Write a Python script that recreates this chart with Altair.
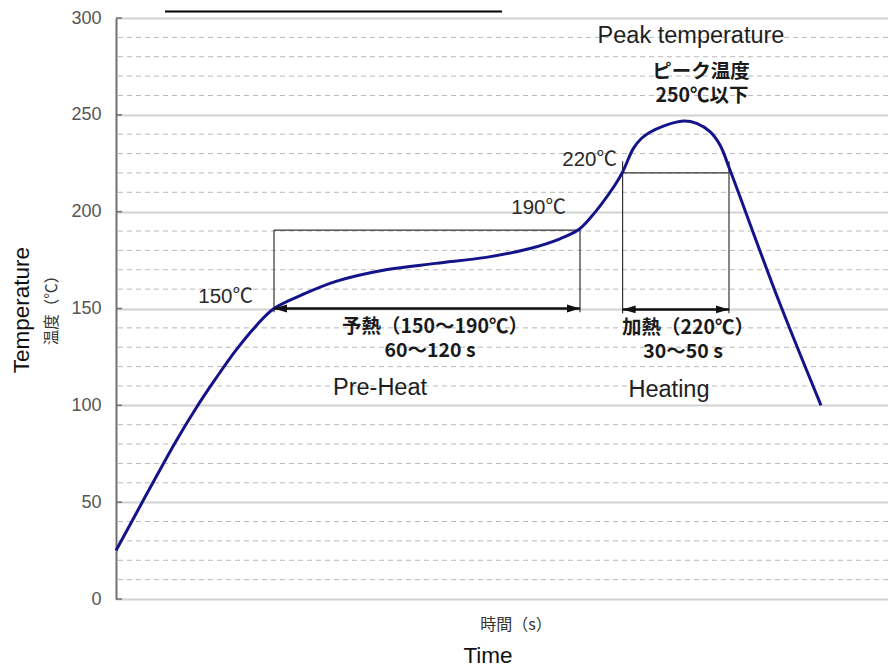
import altair as alt
import pandas as pd

# ---- data ----
curve_time = [0, 10, 20, 30, 40, 50, 60, 70, 79, 94, 110, 135, 160, 185, 207, 222, 231, 237, 249, 253.3,
              258.7, 262.8, 267, 273.7, 283.7, 290.3, 297, 302, 307, 331, 352.5]
curve_temp = [25, 44, 63, 81.5, 98.5, 114, 128.5, 141, 150, 157.5, 164, 170, 173.3, 176.4, 181, 186, 190.5, 196.6, 213, 220.5,
              232.7, 237.9, 241, 244.2, 246.8, 245.6, 241.3, 234.4, 221.5, 155, 100]

major_ticks = [0, 50, 100, 150, 200, 250, 300]
minor_ticks = [v for v in range(10, 300, 10) if v % 50 != 0]

# box outlines (time from, time to, temp from, temp to)
seg_t1 = [79, 232, 79, 253.3, 306.5, 253.3]
seg_t2 = [232, 232, 79, 306.5, 306.5, 253.3]
seg_y1 = [190.5, 190.5, 190.5, 220, 226, 226]
seg_y2 = [190.5, 148, 148, 220, 147.5, 147.5]

# double arrows
arrow_t1 = [79, 253.3]
arrow_t2 = [232, 306.5]
arrow_y = [150, 149.5]

# annotations
reg_text = ["Peak temperature", "Pre-Heat", "Heating"]
reg_t = [287.5, 132, 276.5]
reg_y = [290.7, 109, 107.9]

deg_text = ["220℃", "190℃", "150℃"]
deg_t = [250.5, 225, 68.5]
deg_y = [226.7, 201.9, 155.9]

bold_text = ["ピーク温度", "250℃以下", "予熱（150～190℃）", "60～120 s", "加熱（220℃）", "30～50 s"]
bold_t = [292.5, 293, 159.5, 157, 286, 283.5]
bold_y = [272.3, 259.5, 140.6, 128.2, 140.1, 127.6]

title_text = "推奨リフロープロファイル"

W, H = 772, 581
xs = alt.Scale(domain=[0, 386], nice=False, zero=False)
ys = alt.Scale(domain=[0, 300], nice=False, zero=False)
FONT = "Liberation Sans, Noto Sans CJK JP"
JP = "Noto Sans CJK JP"

curve_df = pd.DataFrame({"t": curve_time, "T": curve_temp})
minor_df = pd.DataFrame({"v": minor_ticks})
major_df = pd.DataFrame({"v": major_ticks, "t0": [0] * len(major_ticks), "t1": [3] * len(major_ticks)})
seg_df = pd.DataFrame({"t1": seg_t1, "t2": seg_t2, "y1": seg_y1, "y2": seg_y2})
arr_df = pd.DataFrame({"t1": arrow_t1, "t2": arrow_t2, "y": arrow_y})
reg_df = pd.DataFrame({"txt": reg_text, "t": reg_t, "T": reg_y})
deg_df = pd.DataFrame({"txt": deg_text, "t": deg_t, "T": deg_y})
bold_df = pd.DataFrame({"txt": bold_text, "t": bold_t, "T": bold_y})

yaxis = alt.Axis(values=major_ticks, grid=True, gridColor="#d2d2d2", gridWidth=2,
                 domain=True, domainColor="#707070", domainWidth=2,
                 ticks=False, tickSize=0, labelPadding=15, labelFontSize=18,
                 labelColor="#555555", labelFont="Liberation Sans", title=None)


def X(f):
    return alt.X(f, scale=xs, axis=None)


def Y(f):
    return alt.Y(f, scale=ys, axis=yaxis)


grid_minor = alt.Chart(minor_df).mark_rule(color="#b8b8b8", strokeDash=[5, 4], strokeWidth=1).encode(
    y=Y("v:Q"))

inner_ticks = alt.Chart(major_df).mark_rule(color="#707070", strokeWidth=1.5).encode(
    x=X("t0:Q"), x2="t1:Q", y=Y("v:Q"))

segs = alt.Chart(seg_df).mark_rule(color="#333333", strokeWidth=1.2).encode(
    x=X("t1:Q"), x2="t2:Q", y=Y("y1:Q"), y2="y2:Q")

curve = alt.Chart(curve_df).mark_line(color="#14148a", strokeWidth=3, interpolate="catmull-rom").encode(
    x=X("t:Q"), y=Y("T:Q"))

arr_line = alt.Chart(arr_df).mark_rule(color="#111111", strokeWidth=2.5).encode(
    x=X("t1:Q"), x2="t2:Q", y=Y("y:Q"))
head_l = alt.Chart(arr_df).mark_point(shape="M0,0 L1,-0.3 L1,0.3 Z", filled=True, size=676,
                                       color="#111111", opacity=1).encode(x=X("t1:Q"), y=Y("y:Q"))
head_r = alt.Chart(arr_df).mark_point(shape="M0,0 L-1,-0.3 L-1,0.3 Z", filled=True, size=676,
                                       color="#111111", opacity=1).encode(x=X("t2:Q"), y=Y("y:Q"))

reg_txt = alt.Chart(reg_df).mark_text(font=FONT, fontSize=23.5, color="#1e1e1e", baseline="middle").encode(
    x=X("t:Q"), y=Y("T:Q"), text="txt:N")
deg_txt = alt.Chart(deg_df).mark_text(font=FONT, fontSize=20.5, color="#2a2a2a", align="right", baseline="middle").encode(
    x=X("t:Q"), y=Y("T:Q"), text="txt:N")
bold_txt = alt.Chart(bold_df).mark_text(font=JP, fontSize=19.5, fontWeight="bold", color="#1a1a1a", baseline="middle").encode(
    x=X("t:Q"), y=Y("T:Q"), text="txt:N")

# axis titles as text in data space (outside plot)
ax_df = pd.DataFrame({"txt": ["Temperature"], "t": [-47], "T": [149.2]})
ax_jp_df = pd.DataFrame({"txt": ["温度（℃）"], "t": [-32], "T": [151]})
xt_df = pd.DataFrame({"txt": ["時間（s）"], "t": [200], "T": [-13.4]})
xt2_df = pd.DataFrame({"txt": ["Time"], "t": [186], "T": [-29.5]})
ax_t = alt.Chart(ax_df).mark_text(font=FONT, fontSize=22.5, angle=270, color="#111111", baseline="middle").encode(
    x=X("t:Q"), y=Y("T:Q"), text="txt:N")
ax_jp = alt.Chart(ax_jp_df).mark_text(font=JP, fontSize=15.5, angle=270, color="#333333", baseline="middle").encode(
    x=X("t:Q"), y=Y("T:Q"), text="txt:N")
xt = alt.Chart(xt_df).mark_text(font=JP, fontSize=16, color="#333333", baseline="middle").encode(
    x=X("t:Q"), y=Y("T:Q"), text="txt:N")
xt2 = alt.Chart(xt2_df).mark_text(font=FONT, fontSize=22.5, color="#111111", baseline="middle").encode(
    x=X("t:Q"), y=Y("T:Q"), text="txt:N")

# page title (cut off at the top in the reference) with underline
tt_df = pd.DataFrame({"txt": [title_text], "t": [108.75], "T": [305.5], "t1": [24.5], "t2": [193], "u": [303.4]})
title_t = alt.Chart(tt_df).mark_text(font=JP, fontSize=28, color="#222222", baseline="bottom").encode(
    x=X("t:Q"), y=Y("T:Q"), text="txt:N")
title_u = alt.Chart(tt_df).mark_rule(color="#000000", strokeWidth=2).encode(
    x=X("t1:Q"), x2="t2:Q", y=Y("u:Q"))

chart = alt.layer(
    grid_minor, inner_ticks, segs, curve, arr_line, head_l, head_r,
    reg_txt, deg_txt, bold_txt, ax_t, ax_jp, xt, xt2, title_t, title_u
).properties(
    width=W, height=H,
    autosize=alt.AutoSizeParams(type="none"),
    padding={"left": 108, "top": 10, "right": 0, "bottom": 70},
).configure_view(stroke=None).configure(background="white")

chart.save("out.html", embed_options={"renderer": "svg", "actions": False})
